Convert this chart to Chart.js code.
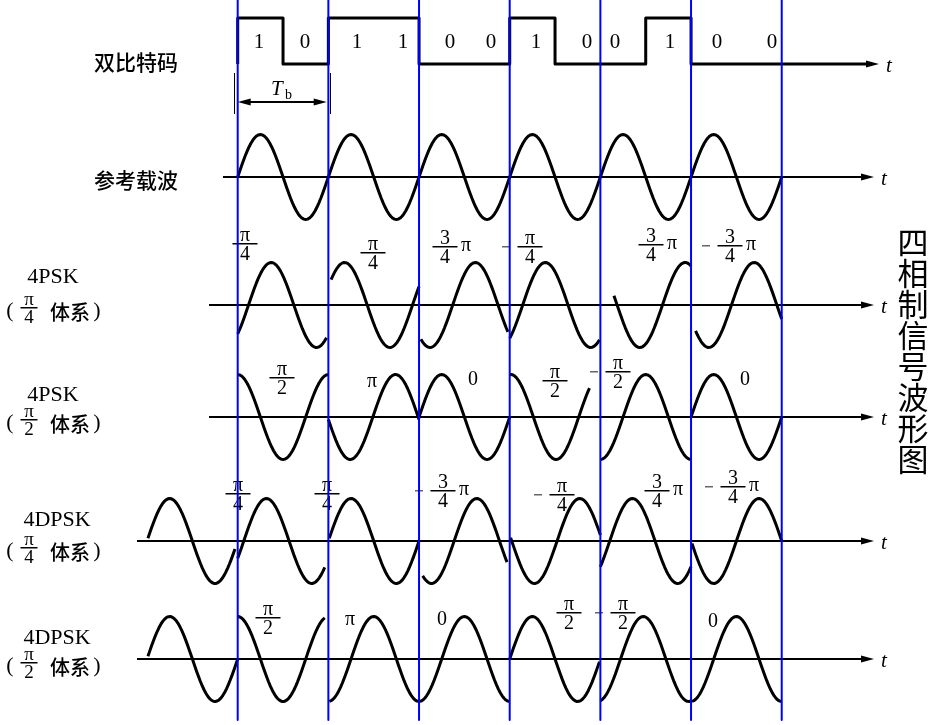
<!DOCTYPE html>
<html>
<head>
<meta charset="utf-8">
<script src="https://cdn.jsdelivr.net/npm/chart.js@4.4.0/dist/chart.umd.min.js"></script>
<style>
    body { margin: 0; background: #fff; }
</style>
</head>
<body>
<canvas id="myChart" width="942" height="725"></canvas>
<script>
// dibit sequence
const bits = [1, 0, 1, 1, 0, 0, 1, 0, 0, 1, 0, 0];

// phase of each symbol (rad), waveform = sin(2*pi*t/Tb + phase)
const carrierPhase = [0, 0, 0, 0, 0, 0];
const psk4Phase = [-0.75, 0.45, 3.95, -0.9, 1.98, 3.48];
const psk2Phase = [1.57, 3.2, 0, 1.5, -1.57, 0];
const dpsk4Phase = [0, -0.42, 0, 3.85, 3.0, -0.65, 3.14];   // first one is the symbol before t = 0
const dpsk2Phase = [0, 1.57, -1.57, -1.57, 0, -1.4, -1.57];

// drawn part of each symbol (fraction of Tb)
const fullSpan = [[0, 1], [0, 1], [0, 1], [0, 1], [0, 1], [0, 1]];
const psk4Span = [[0, 0.98], [0.03, 1], [0.02, 0.98], [0, 0.99], [0.15, 1], [0.05, 1]];
const psk2Span = [[0, 1], [0, 1], [0, 1], [0, 0.88], [0, 1], [0, 1]];
const dpsk4Span = [[0.01, 0.97], [0, 0.96], [0.01, 1], [0.04, 0.97], [0.01, 1], [0, 1], [0.01, 1]];
const dpsk2Span = [[0.01, 1], [0, 0.96], [0.01, 1], [0, 1], [0, 0.99], [0, 1], [0.01, 1]];

// phase labels
const psk4Labels = ["π/4", "π/4", "3/4π", "-π/4", "3/4π", "-3/4π"];
const psk2Labels = ["π/2", "π", "0", "π/2", "-π/2", "0"];
const dpsk4Labels = ["π/4", "π/4", "-3/4π", "-π/4", "3/4π", "-3/4π"];
const dpsk2Labels = ["π/2", "π", "0", "π/2", "-π/2", "0"];

// layout (pixels)
const X0 = 237.7, TB = 90.67, AMP = 42.5, HIGH = 46;
const rowY = [64, 177, 305, 417, 541, 659];
const axisFrom = [null, 223, 209, 209, 137, 137];
const arrowTip = [879, 874, 874, 874, 874, 874];
const bitTextX = [259, 305, 357, 403, 450, 491, 536, 587, 615, 670, 717, 772];
const psk4Pos = [[245, 244], [373, 253], [445, 247], [530, 247], [651, 245], [730, 246]];
const psk2Pos = [[282, 378], [372, 382], [473, 380], [555, 381], [618, 372], [745, 380]];
const dpsk4Pos = [[238, 494], [327, 494], [443, 491], [562, 495], [657, 491], [733, 487]];
const dpsk2Pos = [[268, 618], [350, 620], [442, 620], [569, 613], [623, 613], [713, 622]];

const SERIF = '"Liberation Serif", serif';
const CJK = '"Noto Sans CJK SC", sans-serif';

const wave = (base, phases, spans, t0) => {
    let pts = [];
    phases.forEach((ph, i) => {
        let a = spans[i][0], b = spans[i][1];
        for (let k = 0; k <= 48; k++) {
            let u = a + (b - a) * k / 48;
            pts.push({ x: t0 + i + u, y: base - AMP * Math.sin(2 * Math.PI * u + ph) });
        }
        pts.push({ x: t0 + i + b, y: null });
    });
    return pts;
};

let square = [{ x: 0, y: rowY[0] }];
bits.forEach((b, i) => {
    let y = b ? rowY[0] - HIGH : rowY[0];
    square.push({ x: i / 2, y: y }, { x: (i + 1) / 2, y: y });
});
square.push({ x: (arrowTip[0] - 12 - X0) / TB, y: rowY[0] });

let blueLines = [];
for (let i = 0; i <= 6; i++) {
    blueLines.push({ x: i, y: 0 }, { x: i, y: 720 }, { x: i, y: null });
}

const lineSet = (data, color, width) => ({
    data: data,
    borderColor: color,
    borderWidth: width,
    pointRadius: 0,
    tension: 0,
    fill: false,
    borderCapStyle: "butt",
    borderJoinStyle: "round"
});

const drawFrac = (ctx, cx, by, num, den, size, barW) => {
    ctx.font = size + "px " + SERIF;
    ctx.textAlign = "center";
    ctx.textBaseline = "alphabetic";
    ctx.fillText(num, cx, by - 3);
    ctx.fillText(den, cx, by + 2 + size * 0.68);
    ctx.fillRect(cx - barW / 2, by - 1, barW, 1.5);
};

const drawPhase = (ctx, label, pos) => {
    let cx = pos[0], by = pos[1];
    if (label.indexOf("/") < 0) {
        ctx.font = "20px " + SERIF;
        ctx.textAlign = "center";
        ctx.textBaseline = "middle";
        ctx.fillText(label, cx, by);
        return;
    }
    let neg = label[0] === "-";
    let s = neg ? label.slice(1) : label;
    let tail = s.endsWith("π") && s.indexOf("/") < s.length - 2;
    if (tail) s = s.slice(0, -1);
    let parts = s.split("/");
    drawFrac(ctx, cx, by, parts[0], parts[1], 20, 25);
    if (neg) {
        ctx.save();
        ctx.fillStyle = "#666";
        ctx.fillRect(cx - 28, by - 1, 8, 1.5);
        ctx.restore();
    }
    if (tail) {
        ctx.font = "20px " + SERIF;
        ctx.textAlign = "center";
        ctx.textBaseline = "middle";
        ctx.fillText("π", cx + 21, by - 1);
    }
};

const drawArrow = (ctx, tipX, y, dir) => {
    ctx.beginPath();
    ctx.moveTo(tipX, y);
    ctx.lineTo(tipX - dir * 13, y - 3.5);
    ctx.lineTo(tipX - dir * 13, y + 3.5);
    ctx.closePath();
    ctx.fill();
};

const sideLabel = (ctx, name, nameX, nameY, den, barY) => {
    ctx.font = "22px " + SERIF;
    ctx.textAlign = "center";
    ctx.textBaseline = "middle";
    ctx.fillText(name, nameX, nameY);
    ctx.font = "22px " + SERIF;
    ctx.fillText("(", 10, barY + 3);
    ctx.fillText(")", 97, barY + 3);
    drawFrac(ctx, 29, barY, "π", den, 19, 17);
    ctx.font = "500 20px " + CJK;
    ctx.textBaseline = "middle";
    ctx.fillText("体系", 70, barY + 4);
};

const decor = {
    id: "decor",
    beforeDatasetsDraw(chart) {
        let ctx = chart.ctx;
        ctx.save();
        ctx.fillStyle = "#000";
        ctx.strokeStyle = "#000";

        // axes with arrows
        ctx.lineWidth = 2;
        rowY.forEach((y, r) => {
            if (axisFrom[r] !== null) {
                ctx.beginPath();
                ctx.moveTo(axisFrom[r], y);
                ctx.lineTo(arrowTip[r] - 10, y);
                ctx.stroke();
            }
            drawArrow(ctx, arrowTip[r], y, 1);
            ctx.font = "italic 21px " + SERIF;
            ctx.textAlign = "left";
            ctx.textBaseline = "middle";
            ctx.fillText("t", arrowTip[r] + 7, y + 2);
        });

        // Tb dimension
        ctx.lineWidth = 1;
        ctx.beginPath();
        ctx.moveTo(234.5, 73); ctx.lineTo(234.5, 114);
        ctx.moveTo(330.5, 73); ctx.lineTo(330.5, 114);
        ctx.stroke();
        ctx.lineWidth = 2;
        ctx.beginPath();
        ctx.moveTo(248, 102); ctx.lineTo(316, 102);
        ctx.stroke();
        drawArrow(ctx, 237.7, 102, -1);
        drawArrow(ctx, 326.7, 102, 1);
        ctx.font = "italic 21px " + SERIF;
        ctx.textAlign = "left";
        ctx.textBaseline = "alphabetic";
        ctx.fillText("T", 271, 95);
        ctx.font = "14px " + SERIF;
        ctx.fillText("b", 285, 99);

        // bits
        ctx.font = "21px " + SERIF;
        ctx.textAlign = "center";
        ctx.textBaseline = "middle";
        bits.forEach((b, i) => ctx.fillText(String(b), bitTextX[i], 42));

        // phase labels
        psk4Labels.forEach((l, i) => drawPhase(ctx, l, psk4Pos[i]));
        psk2Labels.forEach((l, i) => drawPhase(ctx, l, psk2Pos[i]));
        dpsk4Labels.forEach((l, i) => drawPhase(ctx, l, dpsk4Pos[i]));
        dpsk2Labels.forEach((l, i) => drawPhase(ctx, l, dpsk2Pos[i]));

        // row names
        ctx.font = "500 21px " + CJK;
        ctx.textAlign = "center";
        ctx.textBaseline = "middle";
        ctx.fillText("双比特码", 136, 62);
        ctx.fillText("参考载波", 136, 180);
        sideLabel(ctx, "4PSK", 53, 277, "4", 308);
        sideLabel(ctx, "4PSK", 53, 395, "2", 420);
        sideLabel(ctx, "4DPSK", 57, 520, "4", 548);
        sideLabel(ctx, "4DPSK", 57, 638, "2", 663);

        // vertical title
        ctx.font = "31px " + CJK;
        "四相制信号波形图".split("").forEach((c, i) => ctx.fillText(c, 913, 242 + i * 31));

        ctx.restore();
    }
};

const config = {
    type: "line",
    data: {
        datasets: [
            lineSet(blueLines, "#0000ff", 2),
            lineSet(square, "#000", 3),
            lineSet(wave(rowY[1], carrierPhase, fullSpan, 0), "#000", 3),
            lineSet(wave(rowY[2], psk4Phase, psk4Span, 0), "#000", 3),
            lineSet(wave(rowY[3], psk2Phase, psk2Span, 0), "#000", 3),
            lineSet(wave(rowY[4], dpsk4Phase, dpsk4Span, -1), "#000", 3),
            lineSet(wave(rowY[5], dpsk2Phase, dpsk2Span, -1), "#000", 3)
        ]
    },
    options: {
        responsive: false,
        animation: false,
        layout: { padding: 0 },
        plugins: { legend: { display: false }, tooltip: { enabled: false } },
        scales: {
            x: { type: "linear", display: false, min: -X0 / TB, max: (942 - X0) / TB },
            y: { type: "linear", display: false, reverse: true, min: 0, max: 725 }
        }
    },
    plugins: [decor]
};

var myChart = new Chart(document.getElementById("myChart"), config);
</script>
</body>
</html>
